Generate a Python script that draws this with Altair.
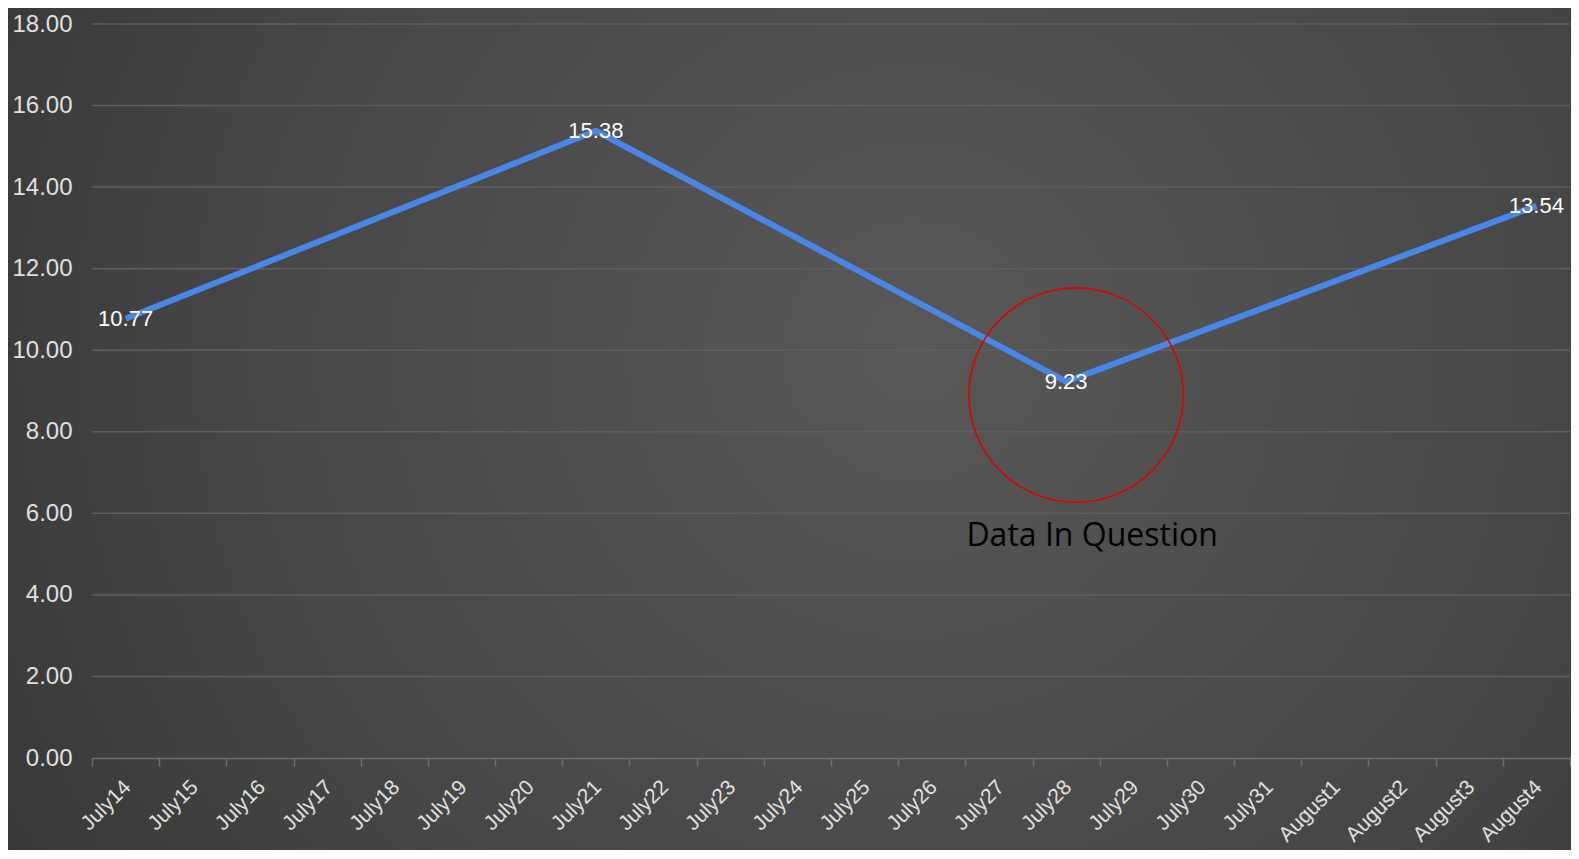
import altair as alt
import pandas as pd

dates = ["July14", "July15", "July16", "July17", "July18", "July19", "July20",
         "July21", "July22", "July23", "July24", "July25", "July26", "July27",
         "July28", "July29", "July30", "July31", "August1", "August2",
         "August3", "August4"]
point_dates = ["July14", "July21", "July28", "August4"]
point_values = [10.77, 15.38, 9.23, 13.54]
y_ticks = [0, 2, 4, 6, 8, 10, 12, 14, 16, 18]

note_date = "July28"
note_text = "Data In Question"
note_value = 5.45
circle_value = 8.9

W, H = 1478, 734
BAND = W / len(dates)

df = pd.DataFrame({"date": point_dates, "value": point_values})
grid_df = pd.DataFrame({"g": y_ticks[1:]})
note_df = pd.DataFrame({"date": [note_date], "value": [note_value], "text": [note_text]})
circ_df = pd.DataFrame({"date": [note_date], "value": [circle_value]})
bg_df = pd.DataFrame({"a": [0]})

xscale = alt.Scale(domain=dates, paddingInner=0, paddingOuter=0)
yscale = alt.Scale(domain=[0, 18])

bg = alt.Chart(bg_df).mark_rect(
    fill=alt.RadialGradient(
        gradient="radial",
        x1=0.58, y1=0.45, x2=0.58, y2=0.45, r1=0, r2=0.8,
        stops=[alt.GradientStop(offset=0, color="#585858"),
               alt.GradientStop(offset=0.5, color="#474747"),
               alt.GradientStop(offset=1, color="#303030")]
    )
).encode(x=alt.value(-84), x2=alt.value(W + 1), y=alt.value(-16), y2=alt.value(H + 92))

grid = alt.Chart(grid_df).mark_rule(color="#5e5e5e", strokeWidth=1.5).encode(
    y=alt.Y("g:Q", scale=yscale),
    x=alt.value(0), x2=alt.value(W)
)

line = alt.Chart(df).mark_line(color="#4a86e8", strokeWidth=6).encode(
    x=alt.X("date:N", scale=xscale, sort=dates,
            axis=alt.Axis(title=None, labelAngle=-45, labelFontSize=21,
                          labelColor="#e0e0e0", labelFont="Liberation Sans",
                          tickBand="extent", tickColor="#6e6e6e", tickSize=8,
                          domainColor="#6e6e6e", domainWidth=1.5, tickWidth=1.5,
                          labelPadding=10, labelOffset=-6, grid=False, zindex=1)),
    y=alt.Y("value:Q", scale=yscale,
            axis=alt.Axis(title=None, values=y_ticks, format=".2f", labelFontSize=24,
                          labelColor="#e0e0e0", labelFont="Liberation Sans",
                          ticks=False, domain=False, grid=False, labelPadding=20,
                          zindex=1))
)

labels = alt.Chart(df).mark_text(color="#ffffff", fontSize=22, font="Liberation Sans",
                                 align="center", baseline="middle").encode(
    x=alt.X("date:N", scale=xscale, sort=dates),
    y=alt.Y("value:Q", scale=yscale),
    text=alt.Text("value:Q", format=".2f")
)

circle = alt.Chart(circ_df).mark_point(shape="circle", size=46000, filled=False,
                                       color="#e00000", strokeWidth=1.6, opacity=1).encode(
    x=alt.X("date:N", scale=xscale, sort=dates),
    y=alt.Y("value:Q", scale=yscale),
    xOffset=alt.value(BAND / 2 + 10)
)

note = alt.Chart(note_df).mark_text(color="#000000", fontSize=32, font="Open Sans",
                                    align="center", baseline="middle", dx=26).encode(
    x=alt.X("date:N", scale=xscale, sort=dates),
    y=alt.Y("value:Q", scale=yscale),
    text="text:N"
)

chart = alt.layer(bg, grid, line, labels, circle, note).properties(
    width=W, height=H,
    autosize=alt.AutoSizeParams(type="none"),
    padding={"left": 84, "top": 16, "right": 1, "bottom": 92},
    background="#333333"
).configure_view(stroke=None)

chart.save("out.html", embed_options={"renderer": "svg", "actions": False})
